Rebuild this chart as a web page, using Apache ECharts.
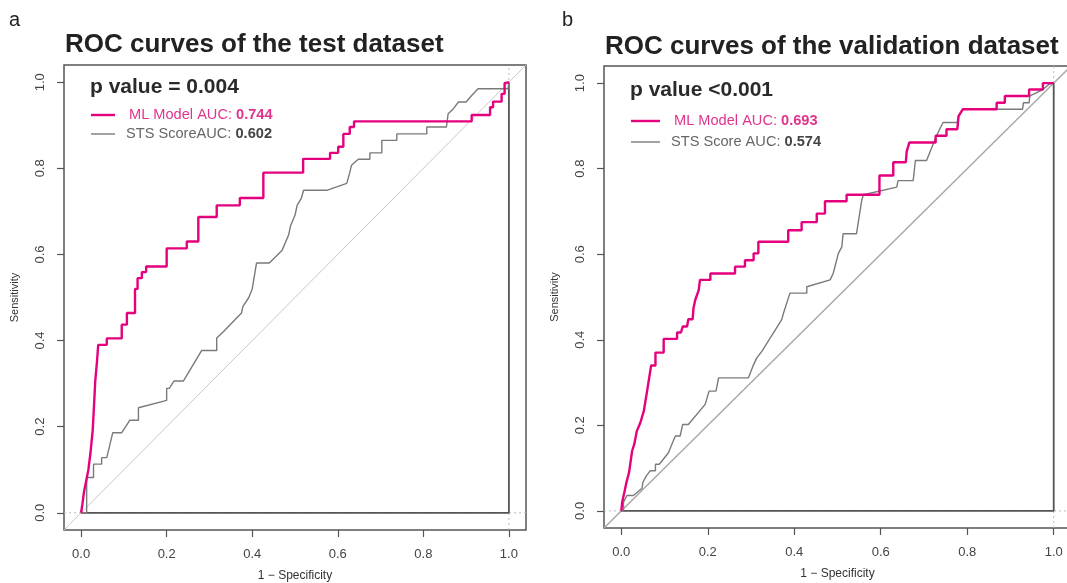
<!DOCTYPE html>
<html lang="en">
<head>
    <meta charset="UTF-8">
    <title>ROC curves</title>
    <script src="https://cdn.jsdelivr.net/npm/echarts@6/dist/echarts.min.js"></script>
    <style>
        html, body {
            width: 100%;
            height: 100%;
            margin: 0;
            padding: 0;
            background: #fff;
            overflow: hidden;
        }
        #chart {
            width: 1067px;
            height: 583px;
        }
    </style>
</head>
<body>
<div id="chart"></div>
<script>
    // Tick positions shared by both panels
    var tickValues = [0, 0.2, 0.4, 0.6, 0.8, 1.0];

    // Panel texts
    var panelLetters = ['a', 'b'];
    var panelTitles = ['ROC curves of the test dataset', 'ROC curves of the validation dataset'];
    var pValues = ['p value = 0.004', 'p value <0.001'];
    var mlLabels = ['ML Model AUC: ', 'ML Model AUC: '];
    var mlAuc = ['0.744', '0.693'];
    var stsLabels = ['STS ScoreAUC: ', 'STS Score AUC: '];
    var stsAuc = ['0.602', '0.574'];

    // ROC points [1 - specificity, sensitivity]
    var testMl = [
        [0, 0], [0.003, 0.02], [0.007, 0.05], [0.012, 0.075], [0.017, 0.1], [0.022, 0.14],
        [0.027, 0.19], [0.03, 0.245], [0.033, 0.305], [0.037, 0.35], [0.04, 0.39], [0.06, 0.39],
        [0.06, 0.405], [0.095, 0.405], [0.095, 0.437], [0.107, 0.437], [0.107, 0.464], [0.126, 0.464],
        [0.126, 0.52], [0.132, 0.52], [0.132, 0.545], [0.142, 0.545], [0.142, 0.559], [0.152, 0.559],
        [0.152, 0.572], [0.2, 0.572], [0.2, 0.614], [0.247, 0.614], [0.247, 0.63], [0.274, 0.63],
        [0.274, 0.687], [0.317, 0.687], [0.317, 0.714], [0.371, 0.714], [0.371, 0.731], [0.426, 0.731],
        [0.426, 0.79], [0.519, 0.79], [0.519, 0.822], [0.582, 0.822], [0.582, 0.836], [0.601, 0.836],
        [0.601, 0.85], [0.613, 0.85], [0.613, 0.88], [0.628, 0.88], [0.628, 0.896], [0.638, 0.896],
        [0.638, 0.909], [0.913, 0.909], [0.913, 0.924], [0.956, 0.924], [0.956, 0.942], [0.963, 0.942],
        [0.963, 0.955], [0.983, 0.955], [0.983, 0.973], [0.99, 0.973], [0.99, 0.998], [1, 1]
    ];
    var testSts = [
        [0, 0], [0.013, 0], [0.013, 0.082], [0.029, 0.082], [0.029, 0.113], [0.048, 0.113],
        [0.048, 0.128], [0.06, 0.128], [0.074, 0.186], [0.095, 0.186], [0.114, 0.215], [0.134, 0.215],
        [0.134, 0.244], [0.2, 0.261], [0.2, 0.289], [0.206, 0.289], [0.217, 0.306], [0.239, 0.306],
        [0.282, 0.377], [0.317, 0.377], [0.317, 0.406], [0.333, 0.421], [0.375, 0.464], [0.378, 0.479],
        [0.392, 0.5], [0.4, 0.52], [0.41, 0.58], [0.44, 0.58], [0.47, 0.61], [0.485, 0.645],
        [0.49, 0.668], [0.5, 0.691], [0.505, 0.714], [0.515, 0.731], [0.52, 0.749], [0.574, 0.749],
        [0.621, 0.765], [0.628, 0.79], [0.632, 0.807], [0.648, 0.821], [0.675, 0.821], [0.675, 0.836],
        [0.703, 0.836], [0.703, 0.865], [0.738, 0.865], [0.738, 0.88], [0.808, 0.88], [0.808, 0.896],
        [0.854, 0.896], [0.858, 0.927], [0.87, 0.938], [0.882, 0.954], [0.9, 0.954], [0.913, 0.969],
        [0.928, 0.985], [0.998, 0.985], [1, 1]
    ];
    var valMl = [
        [0, 0], [0.002, 0.02], [0.007, 0.043], [0.012, 0.067], [0.018, 0.09], [0.025, 0.14],
        [0.03, 0.156], [0.036, 0.187], [0.044, 0.206], [0.052, 0.233], [0.059, 0.276], [0.069, 0.34],
        [0.079, 0.34], [0.079, 0.37], [0.098, 0.37], [0.098, 0.402], [0.129, 0.402], [0.129, 0.417],
        [0.138, 0.417], [0.142, 0.431], [0.152, 0.431], [0.155, 0.448], [0.165, 0.448], [0.167, 0.474],
        [0.171, 0.493], [0.179, 0.516], [0.182, 0.54], [0.206, 0.54], [0.206, 0.555], [0.263, 0.555],
        [0.263, 0.571], [0.286, 0.571], [0.286, 0.586], [0.306, 0.586], [0.306, 0.602], [0.317, 0.602],
        [0.317, 0.629], [0.386, 0.629], [0.386, 0.656], [0.417, 0.656], [0.417, 0.675], [0.452, 0.675],
        [0.452, 0.695], [0.471, 0.695], [0.471, 0.724], [0.521, 0.724], [0.521, 0.739], [0.597, 0.739],
        [0.597, 0.784], [0.629, 0.784], [0.629, 0.815], [0.658, 0.815], [0.66, 0.84], [0.666, 0.861],
        [0.727, 0.861], [0.727, 0.877], [0.752, 0.877], [0.752, 0.892], [0.777, 0.892], [0.78, 0.923],
        [0.79, 0.939], [0.868, 0.939], [0.868, 0.954], [0.887, 0.954], [0.887, 0.97], [0.943, 0.97],
        [0.943, 0.985], [0.975, 0.985], [0.975, 1], [1, 1]
    ];
    var valSts = [
        [0, 0], [0.005, 0], [0.005, 0.02], [0.013, 0.036], [0.028, 0.036], [0.048, 0.053],
        [0.05, 0.067], [0.058, 0.082], [0.067, 0.094], [0.079, 0.094], [0.079, 0.109], [0.088, 0.109],
        [0.109, 0.136], [0.117, 0.156], [0.125, 0.175], [0.136, 0.175], [0.142, 0.202], [0.155, 0.202],
        [0.194, 0.249], [0.203, 0.28], [0.219, 0.28], [0.225, 0.311], [0.294, 0.311], [0.306, 0.342],
        [0.313, 0.357], [0.325, 0.373], [0.371, 0.447], [0.375, 0.462], [0.39, 0.509], [0.429, 0.509],
        [0.429, 0.524], [0.483, 0.54], [0.49, 0.555], [0.502, 0.602], [0.51, 0.617], [0.513, 0.648],
        [0.544, 0.648], [0.556, 0.726], [0.56, 0.739], [0.637, 0.757], [0.64, 0.772], [0.675, 0.772],
        [0.678, 0.799], [0.68, 0.819], [0.706, 0.819], [0.729, 0.877], [0.744, 0.908], [0.777, 0.908],
        [0.78, 0.923], [0.79, 0.939], [0.928, 0.939], [0.93, 0.954], [0.943, 0.954], [0.945, 0.97],
        [0.975, 0.985], [0.99, 0.998], [1, 1]
    ];

    // Reference lines of the R plot
    var diagonal = [[-0.04, -0.04], [1.04, 1.04]];
    var frame = [[0, 0], [1, 0], [1, 1]];
    var dotH = [[-0.04, 0], [1.04, 0]];
    var dotV = [[1, -0.04], [1, 1.04]];

    var FONT = 'Liberation Sans, Arial, Helvetica, sans-serif';
    var PINK = '#e5007d';
    var GRAY = '#7a7a7a';
    var DARK = '#555';

    var chart = echarts.init(document.getElementById('chart'));

    var grids = [
        { left: 64, right: 541, top: 65, bottom: 53 },
        { left: 604, right: -4, top: 66, bottom: 55 }
    ];

    function axisCommon() {
        return {
            type: 'value',
            min: -0.04,
            max: 1.04,
            splitLine: { show: false },
            axisLine: { show: false, onZero: false },
            axisTick: {
                show: true,
                inside: false,
                length: 7,
                customValues: tickValues,
                lineStyle: { color: DARK, width: 1.2 }
            },
            axisLabel: {
                customValues: tickValues,
                color: '#444',
                fontSize: 13,
                fontFamily: FONT,
                formatter: function (v) { return v.toFixed(1); }
            },
            nameLocation: 'middle',
            nameTextStyle: { color: '#333', fontSize: 12, fontFamily: FONT }
        };
    }

    var xAxes = [], yAxes = [], series = [], graphics = [];
    var curves = [[testMl, testSts], [valMl, valSts]];
    var diagColors = ['#c8c8c8', '#a8a8a8'];

    for (var i = 0; i < 2; i++) {
        var xa = axisCommon();
        xa.gridIndex = i;
        xa.name = '1 \u2212 Specificity';
        xa.nameGap = 40;
        xa.axisLabel.margin = 18;
        xAxes.push(xa);

        var ya = axisCommon();
        ya.gridIndex = i;
        ya.name = 'Sensitivity';
        ya.nameGap = 44;
        ya.nameTextStyle.fontSize = 11;
        ya.axisLabel.rotate = 90;
        ya.axisLabel.margin = 17;
        yAxes.push(ya);

        var base = { type: 'line', xAxisIndex: i, yAxisIndex: i, symbol: 'none', silent: true, animation: false };
        series.push(Object.assign({}, base, {
            data: dotH, lineStyle: { color: '#bbb', width: 1, type: [2, 3] }
        }));
        series.push(Object.assign({}, base, {
            data: dotV, lineStyle: { color: '#bbb', width: 1, type: [2, 3] }
        }));
        series.push(Object.assign({}, base, {
            data: diagonal, lineStyle: { color: diagColors[i], width: i === 0 ? 1 : 1.5 }
        }));
        series.push(Object.assign({}, base, {
            data: frame, lineStyle: { color: DARK, width: 1.8 }
        }));
        series.push(Object.assign({}, base, {
            name: 'STS Score', data: curves[i][1], lineStyle: { color: GRAY, width: 1.4 }
        }));
        series.push(Object.assign({}, base, {
            name: 'ML Model', data: curves[i][0], lineStyle: { color: PINK, width: 2.4 }
        }));

        var g = grids[i];
        var lx = g.left + 26;
        var ty = i === 0 ? 87 : 90;
        var l1 = i === 0 ? 115 : 121;
        var l2 = i === 0 ? 134 : 142;
        var tx = i === 0 ? 129 : 674;

        // panel letter and title
        graphics.push({
            type: 'text', left: g.left - (i === 0 ? 55 : 42), top: 10,
            style: { text: panelLetters[i], font: '20px ' + FONT, fill: '#222' }
        });
        graphics.push({
            type: 'text', x: g.left + 1, y: i === 0 ? 45 : 47,
            style: {
                text: panelTitles[i], font: 'bold 26px ' + FONT, fill: '#222',
                verticalAlign: 'middle'
            }
        });
        // p value and legend
        graphics.push({
            type: 'text', x: lx, y: ty,
            style: { text: pValues[i], font: 'bold 21px ' + FONT, fill: '#2a2a2a', verticalAlign: 'middle' }
        });
        graphics.push({
            type: 'line', shape: { x1: lx + 1, y1: l1, x2: lx + (i === 0 ? 25 : 30), y2: l1 },
            style: { stroke: PINK, lineWidth: 2.4 }
        });
        graphics.push({
            type: 'line', shape: { x1: lx + 1, y1: l2, x2: lx + (i === 0 ? 25 : 30), y2: l2 },
            style: { stroke: GRAY, lineWidth: 1.4 }
        });
        graphics.push({
            type: 'text', x: tx, y: l1,
            style: {
                text: '{n|' + mlLabels[i] + '}{v|' + mlAuc[i] + '}',
                verticalAlign: 'middle',
                rich: {
                    n: { font: '14.6px ' + FONT, fill: '#e0338c' },
                    v: { font: 'bold 14.6px ' + FONT, fill: '#e0338c' }
                }
            }
        });
        graphics.push({
            type: 'text', x: tx - 3, y: l2,
            style: {
                text: '{n|' + stsLabels[i] + '}{v|' + stsAuc[i] + '}',
                verticalAlign: 'middle',
                rich: {
                    n: { font: '14.6px ' + FONT, fill: '#666' },
                    v: { font: 'bold 14.6px ' + FONT, fill: '#444' }
                }
            }
        });
    }

    chart.setOption({
        backgroundColor: '#fff',
        animation: false,
        grid: grids.map(function (g) {
            return Object.assign({
                show: true, borderColor: DARK, borderWidth: 1.5,
                containLabel: false, outerBoundsMode: 'none'
            }, g);
        }),
        xAxis: xAxes,
        yAxis: yAxes,
        series: series,
        graphic: graphics
    });
</script>
</body>
</html>
